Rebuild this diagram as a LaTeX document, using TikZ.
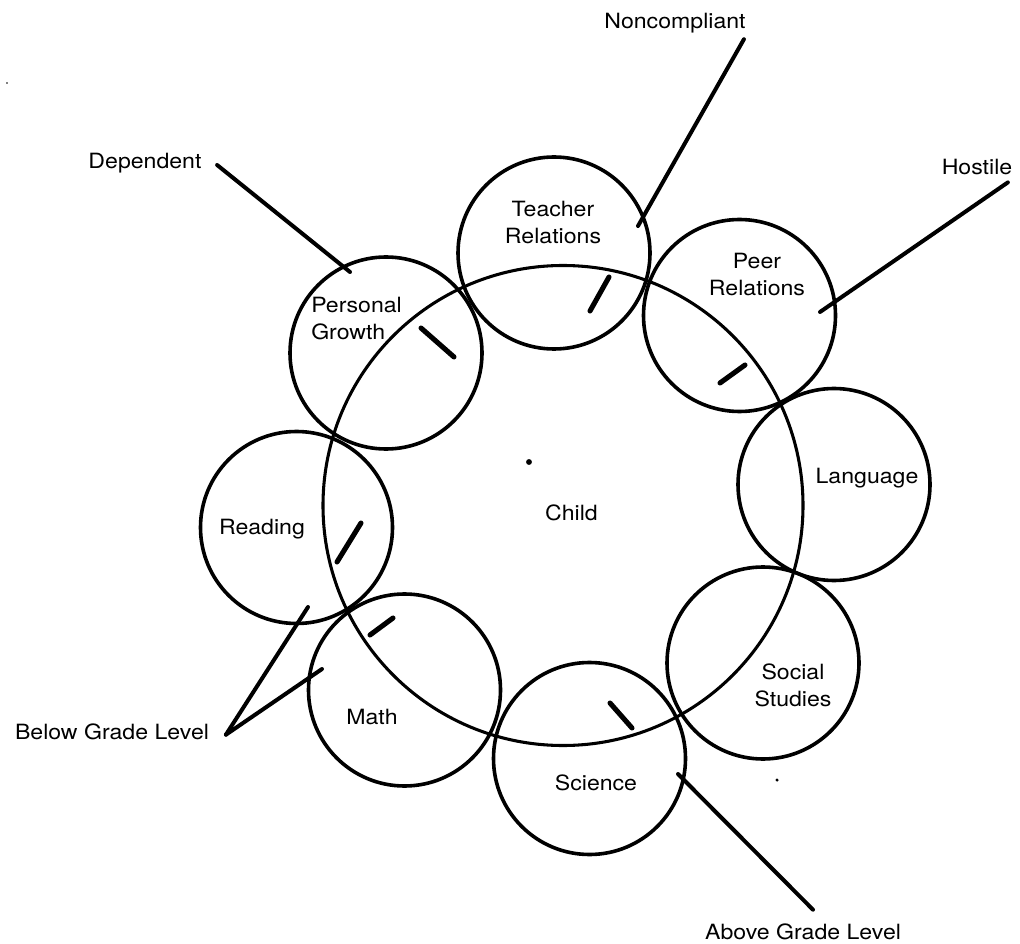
\documentclass[tikz,border=0pt]{standalone}
\usepackage{fontspec}
\setmainfont{TeX Gyre Heros}[FakeStretch=1.1]
\begin{document}
\begin{tikzpicture}[x=0.75pt,y=-0.75pt,
  lbl/.style={font=\fontsize{15.75}{20.25}\selectfont, inner sep=1.5pt, align=center},
  ring/.style={circle, draw, line width=2.7pt, minimum size=144pt, inner sep=0pt},
  bigring/.style={circle, draw, line width=2.3pt, minimum size=360pt, inner sep=0pt},
  conn/.style={line width=3pt, line cap=round},
  tickmark/.style={line width=3.8pt, line cap=round}]
\useasboundingbox (0,0) rectangle (1020,944);

% big circle
\node[bigring] (child) at (563,505.5) {};

% small circles
\node[ring] (teach) at (554,253) {};
\node[ring] (peer)  at (739.5,315.5) {};
\node[ring] (lang)  at (834,484.5) {};
\node[ring] (soc)   at (763,663) {};
\node[ring] (sci)   at (589.5,758.5) {};
\node[ring] (math)  at (404.5,690) {};
\node[ring] (read)  at (296.5,527.5) {};
\node[ring] (pg)    at (386,353) {};

% labels inside circles
\node[lbl] (tTeach) at (553,222.5) {Teacher\\Relations};
\node[lbl] (tPeer)  at (757,275) {Peer\\Relations};
\node[lbl,align=left,anchor=west] (tPG) at (309,318.5) {Personal\\Growth};
\node[lbl] (tLang)  at (867,478) {Language};
\node[lbl] (tSoc)   at (793,685.5) {Social\\Studies};
\node[lbl] (tSci)   at (596,783) {Science};
\node[lbl] (tMath)  at (372,717) {Math};
\node[lbl] (tRead)  at (262,529) {Reading};
\node[lbl] (tChild) at (571.5,513) {Child};

% outer labels
\node[lbl] (dep)  at (145,163) {Dependent};
\node[lbl] (nc)   at (675,23) {Noncompliant};
\node[lbl] (host) at (977,167) {Hostile};
\node[lbl] (bgl)  at (112,732) {Below Grade Level};
\node[lbl] (agl)  at (803,932) {Above Grade Level};

% connector ends
\coordinate (depE) at (350,272);
\coordinate (ncE)  at (638,226);
\coordinate (hosE) at (820,312);
\coordinate (bglR) at (308,607);
\coordinate (bglM) at (322,669);
\coordinate (aglE) at (678,774);

\draw[conn] ([xshift=10pt,yshift=-1.5pt]dep.east) -- (depE);
\draw[conn] ([xshift=-3pt,yshift=-3pt]nc.south east) -- (ncE);
\draw[conn] ([xshift=-5pt,yshift=-4pt]host.south east) -- (hosE);
\draw[conn] ([xshift=11pt,yshift=-2pt]bgl.east) -- (bglR);
\draw[conn] ([xshift=11pt,yshift=-2pt]bgl.east) -- (bglM);
\draw[conn] ([xshift=7.5pt,yshift=9pt]agl.north) -- (aglE);

% tick marks
\draw[tickmark] (421,328) -- (454,357);
\draw[tickmark] (609,277) -- (590,311);
\draw[tickmark] (745,365) -- (720,383);
\draw[tickmark] (610,703) -- (632,728);
\draw[tickmark] (393,618) -- (370,635);
\draw[tickmark] (361,523) -- (337,562);

% specks
\fill (529,462) circle[radius=2.2pt];
\fill (777,780) circle[radius=1.3pt];
\fill (7,83) circle[radius=0.7pt];
\end{tikzpicture}
\end{document}
